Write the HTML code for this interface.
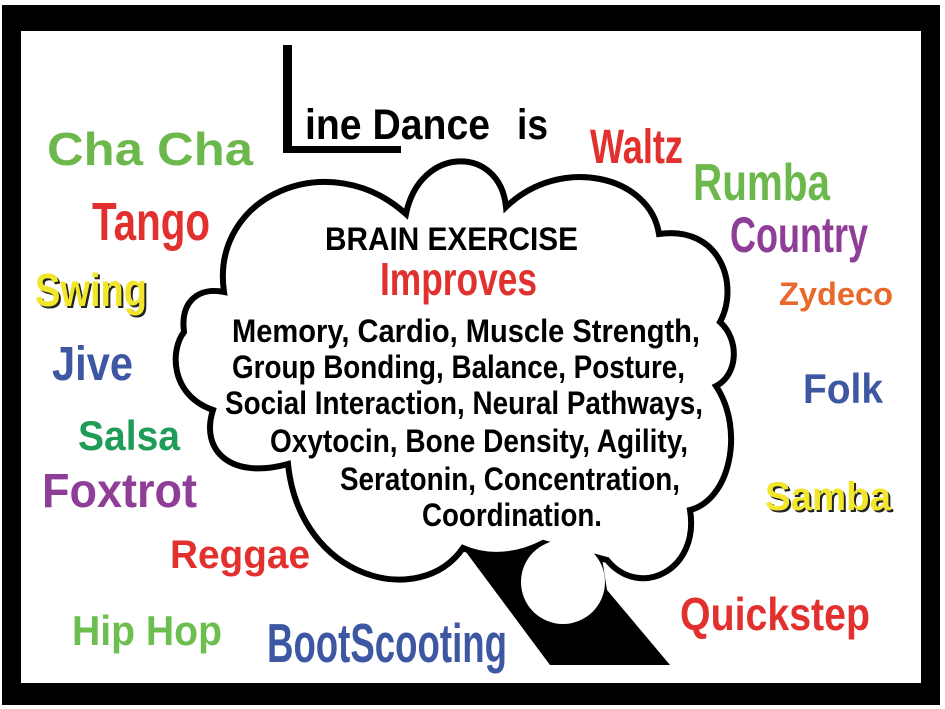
<!DOCTYPE html>
<html><head><meta charset="utf-8"><style>
html,body{margin:0;padding:0;background:#fff;}
svg{display:block;}
text{font-family:"Liberation Sans Narrow","Liberation Sans",sans-serif;font-weight:bold;}
.w{font-family:"Liberation Sans",sans-serif;}
</style></head><body>
<svg width="945" height="709" viewBox="0 0 945 709" xmlns="http://www.w3.org/2000/svg">
<rect x="0" y="0" width="945" height="709" fill="#fff"/>
<rect x="2" y="5" width="938" height="700" fill="#000"/>
<rect x="21" y="31" width="900" height="652" fill="#fff"/>

<!-- L -->
<rect x="283" y="45" width="9" height="108" fill="#000"/>
<rect x="283" y="146" width="118" height="7" fill="#000"/>
<text x="305" y="139" font-size="43" textLength="185" lengthAdjust="spacingAndGlyphs">ine Dance</text>
<text x="517" y="139" font-size="43" textLength="31" lengthAdjust="spacingAndGlyphs">is</text>

<!-- tail -->
<polygon points="463,548 550,665 670,665 607,590 600,545 540,540" fill="#000"/>
<!-- cloud -->
<path d="M224,292 C210,195 330,145 406,214 C420,145 500,145 506,207 C560,155 650,175 659,234 C720,225 740,285 720,322 C740,340 738,375 716,386 C745,430 730,500 690,510 C700,570 640,600 607,560 L543,543 C520,555 490,560 463,548 C420,610 300,580 288,464 C230,480 200,450 213,410 C170,395 170,350 184,332 C180,300 200,287 224,292 Z" fill="#fff" stroke="#000" stroke-width="6" stroke-linejoin="miter"/>
<circle cx="563" cy="582" r="42" fill="#fff"/>

<!-- cloud text -->
<text x="325" y="250" font-size="32" textLength="253" lengthAdjust="spacingAndGlyphs">BRAIN EXERCISE</text>
<text x="380" y="295" font-size="46" fill="#e0312f" textLength="157" lengthAdjust="spacingAndGlyphs">Improves</text>
<text x="232" y="342" font-size="32" textLength="468" lengthAdjust="spacingAndGlyphs">Memory, Cardio, Muscle Strength,</text>
<text x="232" y="378" font-size="32" textLength="453" lengthAdjust="spacingAndGlyphs">Group Bonding, Balance, Posture,</text>
<text x="225" y="414" font-size="32" textLength="478" lengthAdjust="spacingAndGlyphs">Social Interaction, Neural Pathways,</text>
<text x="270" y="452" font-size="32" textLength="418" lengthAdjust="spacingAndGlyphs">Oxytocin, Bone Density, Agility,</text>
<text x="340" y="490" font-size="32" textLength="340" lengthAdjust="spacingAndGlyphs">Seratonin, Concentration,</text>
<text x="422" y="526" font-size="32" textLength="180" lengthAdjust="spacingAndGlyphs">Coordination.</text>

<!-- dances left -->
<text class="w" x="47" y="165" font-size="46" fill="#6cb84c" textLength="206" lengthAdjust="spacingAndGlyphs">Cha Cha</text>
<text x="92" y="240" font-size="54" fill="#e2302e" textLength="118" lengthAdjust="spacingAndGlyphs">Tango</text>
<text x="37" y="308" font-size="46" fill="#222" textLength="112" lengthAdjust="spacingAndGlyphs">Swing</text>
<text x="35" y="306" font-size="46" fill="#f2e62a" textLength="112" lengthAdjust="spacingAndGlyphs">Swing</text>
<text x="52" y="380" font-size="48" fill="#3d57a3" textLength="81" lengthAdjust="spacingAndGlyphs">Jive</text>
<text x="78" y="450" font-size="42" fill="#1e9c58" textLength="102" lengthAdjust="spacingAndGlyphs">Salsa</text>
<text x="42" y="507" font-size="48" fill="#8f3e98" textLength="155" lengthAdjust="spacingAndGlyphs">Foxtrot</text>
<text x="170" y="568" font-size="40" fill="#e2302e" textLength="140" lengthAdjust="spacingAndGlyphs">Reggae</text>
<text x="72" y="645" font-size="42" fill="#6cbf4e" textLength="150" lengthAdjust="spacingAndGlyphs">Hip Hop</text>
<text x="267" y="662" font-size="55" fill="#3d57a3" textLength="240" lengthAdjust="spacingAndGlyphs">BootScooting</text>

<!-- dances right -->
<text x="590" y="163" font-size="48" fill="#e2302e" textLength="93" lengthAdjust="spacingAndGlyphs">Waltz</text>
<text x="693" y="200" font-size="52" fill="#6cb84c" textLength="137" lengthAdjust="spacingAndGlyphs">Rumba</text>
<text x="730" y="252" font-size="50" fill="#8f3e98" textLength="138" lengthAdjust="spacingAndGlyphs">Country</text>
<text x="779" y="305" font-size="32" fill="#e8692b" textLength="114" lengthAdjust="spacingAndGlyphs">Zydeco</text>
<text x="803" y="403" font-size="42" fill="#3d57a3" textLength="80" lengthAdjust="spacingAndGlyphs">Folk</text>
<text x="767" y="512" font-size="40" fill="#222" textLength="126" lengthAdjust="spacingAndGlyphs">Samba</text>
<text x="765" y="510" font-size="40" fill="#f2e62a" textLength="126" lengthAdjust="spacingAndGlyphs">Samba</text>
<text x="680" y="630" font-size="46" fill="#e2302e" textLength="190" lengthAdjust="spacingAndGlyphs">Quickstep</text>
</svg>
</body></html>
